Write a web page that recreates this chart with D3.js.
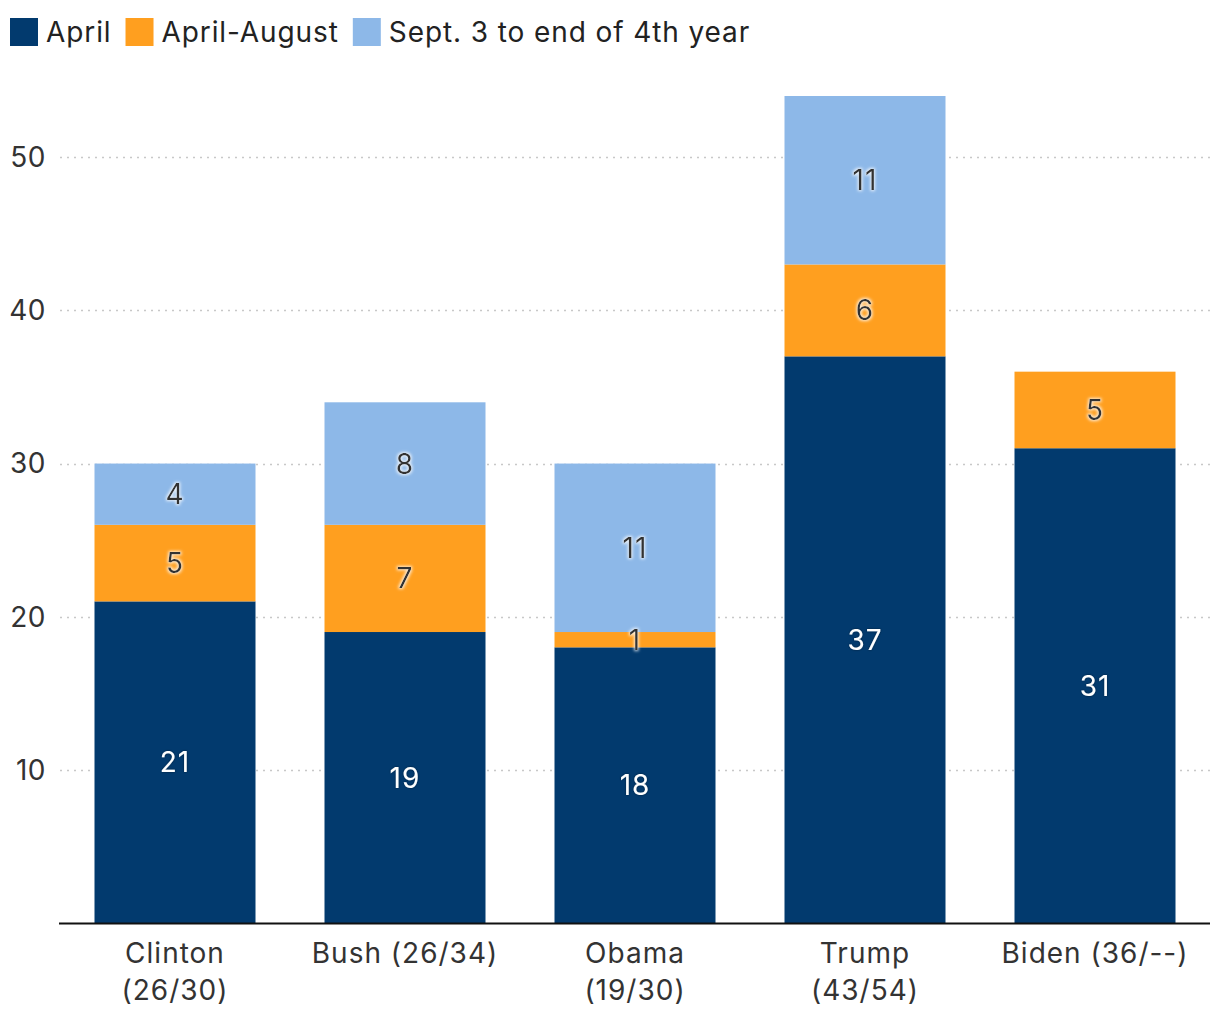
<!DOCTYPE html>
<html><head><meta charset="utf-8">
<script src="https://cdn.jsdelivr.net/npm/d3@7"></script>
<style>
body{margin:0;background:#fff;}
text{font-family:Inter, "Noto Sans", sans-serif;}
</style></head>
<body><svg id="chart" width="1220" height="1020"></svg>
<script>
const categories = ["Clinton (26/30)", "Bush (26/34)", "Obama (19/30)", "Trump (43/54)", "Biden (36/--)"];
const categoryLines = [["Clinton","(26/30)"],["Bush (26/34)"],["Obama","(19/30)"],["Trump","(43/54)"],["Biden (36/--)"]];
const seriesNames = ["April", "April-August", "Sept. 3 to end of 4th year"];
const april = [21, 19, 18, 37, 31];
const aprilAugust = [5, 7, 1, 6, 5];
const septEnd = [4, 8, 11, 11, 0];
const yTicks = [10, 20, 30, 40, 50];
const colors = ["#023a6e", "#ff9f1f", "#8db8e8"];

const svg = d3.select("#chart");
const x = d3.scaleBand().domain(categories).range([60, 1210]).paddingInner(0.3).paddingOuter(0.15);
const y = d3.scaleLinear().domain([0, 54]).range([923, 96]);

const data = categories.map((c, i) => ({cat: c, s0: april[i], s1: aprilAugust[i], s2: septEnd[i]}));
const stack = d3.stack().keys(["s0","s1","s2"])(data);

// grid
svg.append("g").selectAll("line").data(yTicks).join("line")
  .attr("x1", 60).attr("x2", 1210)
  .attr("y1", d => Math.round(y(d)) + 0.5).attr("y2", d => Math.round(y(d)) + 0.5)
  .attr("stroke", "#c8c8c8").attr("stroke-width", 1.3).attr("stroke-dasharray", "2,5");

// y tick labels
svg.append("g").selectAll("text").data(yTicks).join("text")
  .attr("x", 46).attr("y", d => y(d)).attr("dy", "0.35em")
  .attr("text-anchor", "end").attr("font-size", 28).attr("letter-spacing", 0.5).attr("fill", "#333")
  .text(d => d);

const defs = svg.append("defs");
const f1 = defs.append("filter").attr("id", "haloLight").attr("x", "-50%").attr("y", "-50%").attr("width", "200%").attr("height", "200%");
f1.append("feMorphology").attr("in", "SourceAlpha").attr("operator", "dilate").attr("radius", 1).attr("result", "d");
f1.append("feGaussianBlur").attr("in", "d").attr("stdDeviation", 1.5).attr("result", "b");
f1.append("feFlood").attr("flood-color", "#ffffff").attr("flood-opacity", 0.8);
f1.append("feComposite").attr("in2", "b").attr("operator", "in").attr("result", "h");
const m1 = f1.append("feMerge"); m1.append("feMergeNode").attr("in", "h"); m1.append("feMergeNode").attr("in", "SourceGraphic");
const f2 = defs.append("filter").attr("id", "haloDark").attr("x", "-50%").attr("y", "-50%").attr("width", "200%").attr("height", "200%");
f2.append("feGaussianBlur").attr("in", "SourceAlpha").attr("stdDeviation", 1.2).attr("result", "b");
f2.append("feFlood").attr("flood-color", "#000000").attr("flood-opacity", 0.5);
f2.append("feComposite").attr("in2", "b").attr("operator", "in").attr("result", "h");
const m2 = f2.append("feMerge"); m2.append("feMergeNode").attr("in", "h"); m2.append("feMergeNode").attr("in", "SourceGraphic");

// bars
const layers = svg.append("g").selectAll("g").data(stack).join("g").attr("fill", (d, i) => colors[i]);
layers.selectAll("rect").data(d => d.filter(p => p[1] - p[0] > 0)).join("rect")
  .attr("x", d => x(d.data.cat)).attr("width", x.bandwidth())
  .attr("y", d => y(d[1])).attr("height", d => y(d[0]) - y(d[1]));

// value labels
const lbl = svg.append("g");
stack.forEach((layer, i) => {
  lbl.selectAll(null).data(layer.filter(p => p[1] - p[0] > 0)).join("text")
    .attr("x", d => x(d.data.cat) + x.bandwidth() / 2)
    .attr("y", d => y((d[0] + d[1]) / 2)).attr("dy", "0.36em")
    .attr("text-anchor", "middle").attr("font-size", 28).attr("letter-spacing", 1)
    .attr("fill", i === 0 ? "#ffffff" : "#333333")
    .attr("filter", i === 0 ? "url(#haloDark)" : "url(#haloLight)")
    .text(d => d[1] - d[0]);
});

// x axis line
svg.append("line").attr("x1", 59).attr("x2", 1210).attr("y1", 923.5).attr("y2", 923.5)
  .attr("stroke", "#111").attr("stroke-width", 2);

// category labels
const cl = svg.append("g").selectAll("text").data(categories).join("text")
  .attr("x", d => x(d) + x.bandwidth() / 2).attr("y", 963)
  .attr("text-anchor", "middle").attr("font-size", 28).attr("letter-spacing", 1).attr("fill", "#333");
cl.each(function(d, i) {
  d3.select(this).selectAll("tspan").data(categoryLines[i]).join("tspan")
    .attr("x", x(d) + x.bandwidth() / 2).attr("dy", (t, j) => j === 0 ? 0 : 37).text(t => t);
});

// legend
const lg = svg.append("g");
let lx = 10;
seriesNames.forEach((s, i) => {
  lg.append("rect").attr("x", lx).attr("y", 18).attr("width", 28).attr("height", 28).attr("fill", colors[i]);
  const t = lg.append("text").attr("x", lx + 36).attr("y", 32).attr("dy", "0.36em")
    .attr("font-size", 28).attr("letter-spacing", 0.9).attr("fill", "#222").text(s);
  lx += 36 + t.node().getComputedTextLength() + 14;
});
</script></body></html>
